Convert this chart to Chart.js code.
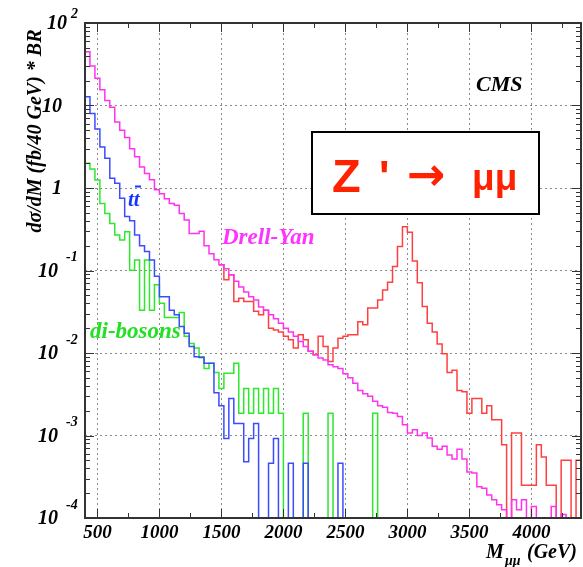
<!DOCTYPE html>
<html>
<head>
<meta charset="utf-8">
<script src="https://cdn.jsdelivr.net/npm/chart.js@4.4.1/dist/chart.umd.min.js"></script>
<style>
  html, body { margin: 0; padding: 0; background: #fff; }
  canvas { display: block; }
</style>
</head>
<body>
<canvas id="chart-mumu" width="583" height="567"></canvas>
<script>
// histogram binning: 40 GeV bins from 400 to 4400 GeV
const binStart = 400;
const binWidth = 40;

// d sigma / dM (fb / 40 GeV) * BR, one value per bin (0 = empty bin)
const drellYan = [
  44.7, 30.2, 21.4, 15.5, 11.5, 9.5, 6.3, 5.0, 4.1, 3.0,
  2.4, 1.8, 1.5, 1.26, 0.95, 0.85, 0.74, 0.65, 0.62, 0.49,
  0.41, 0.28, 0.28, 0.30, 0.20, 0.16, 0.135, 0.117, 0.105, 0.089,
  0.074, 0.063, 0.055, 0.048, 0.044, 0.036, 0.033, 0.029, 0.026, 0.023,
  0.020, 0.018, 0.016, 0.0138, 0.012, 0.0105, 0.0095, 0.0087, 0.0082, 0.0072,
  0.0068, 0.0065, 0.0056, 0.0050, 0.0043, 0.0035, 0.0032, 0.0030, 0.0026, 0.0023,
  0.0022, 0.0019, 0.00186, 0.0017, 0.00135, 0.00107, 0.00117, 0.00100, 0.00107, 0.00093,
  0.00074, 0.00068, 0.00074, 0.00058, 0.00052, 0.00068, 0.00052, 0.00036, 0.00035, 0.00024,
  0.00023, 0.00019, 0.000166, 0.000145, 0.000126, 0, 0.000166, 0.000126, 0.000166, 0,
  0.000138, 0, 0, 0, 0.000138, 0, 0.00011, 0, 0, 0
];

const zPrime = [
  null, null, null, null, null, null, null, null, null, null,
  null, null, null, null, null, null, null, null, null, null,
  null, null, null, null, null, null, null, 0.117, 0.077, 0.089,
  0.042, 0.046, 0.042, 0.042, 0.032, 0.029, 0.033, 0.020, 0.019, 0.018,
  0.016, 0.0145, 0.0115, 0.0166, 0.0145, 0.0105, 0.0095, 0.016, 0.012, 0.0079,
  0.0115, 0.0151, 0.016, 0.0166, 0.0166, 0.024, 0.022, 0.035, 0.035, 0.044,
  0.058, 0.072, 0.112, 0.195, 0.34, 0.29, 0.13, 0.071, 0.0365, 0.023,
  0.018, 0.0129, 0.0098, 0.0058, 0.0062, 0.0035, 0.0034, 0.00186, 0.0028, 0.0028,
  0.00186, 0.0023, 0.00155, 0.00155, 0.00077, 0, 0.00107, 0.00107, 0.00025, 0.00025,
  0.00025, 0.00077, 0.00055, 0.00025, 0.00025, 0, 0.0005, 0.0005, 0, 0.0005
];

const ttbar = [
  12.8, 8.0, 5.2, 3.15, 2.3, 1.31, 1.14, 0.75, 0.45, 0.40,
  0.27, 0.20, 0.17, 0.134, 0.085, 0.048, 0.048, 0.033, 0.029, 0.021,
  0.0174, 0.012, 0.009, 0.0088, 0.0075, 0.0075, 0.0033, 0.0023, 0.00092, 0.0028,
  0.0014, 0.0014, 0.00048, 0.00092, 0.0014, 0, 0, 0.00046, 0.00092, 0,
  0, 0.00046, 0, 0, 0.00046, 0, 0, 0, 0, 0,
  0, 0.00046, 0, 0, 0, 0, 0, 0, 0, 0,
  0, 0, 0, 0, 0, 0, 0, 0, 0, 0,
  0, 0, 0, 0, 0, 0, 0, 0, 0, 0,
  0, 0, 0, 0, 0, 0, 0, 0, 0, 0,
  0, 0, 0, 0, 0, 0, 0, 0, 0, 0
];

const diBosons = [
  2.0, 1.7, 1.25, 0.65, 0.49, 0.37, 0.27, 0.234, 0.295, 0.101,
  0.134, 0.033, 0.134, 0.033, 0.067, 0.040, 0.027, 0.027, 0.027, 0.031,
  0.016, 0.013, 0.0115, 0.009, 0.0065, 0.0075, 0.0058, 0.0037, 0.0057, 0.0057,
  0.0075, 0.00186, 0.0037, 0.00186, 0.0037, 0.00186, 0.0037, 0.00186, 0.0037, 0.00186,
  0, 0, 0, 0, 0.00186, 0, 0, 0, 0, 0.00186,
  0, 0, 0, 0, 0, 0, 0, 0, 0.00186, 0,
  0, 0, 0, 0, 0, 0, 0, 0, 0, 0,
  0, 0, 0, 0, 0, 0, 0, 0, 0, 0,
  0, 0, 0, 0, 0, 0, 0, 0, 0, 0,
  0, 0, 0, 0, 0, 0, 0, 0, 0, 0
];

const xTickLabels = [500, 1000, 1500, 2000, 2500, 3000, 3500, 4000];
const yDecades = [-4, -3, -2, -1, 0, 1, 2];

// empty bins sit far below the axis, so the line drops to the frame
const FLOOR = 1e-6;

function histPoints(values) {
  const pts = [];
  values.forEach((v, i) => {
    if (v === null) return;
    pts.push({ x: binStart + i * binWidth, y: v > 0 ? v : FLOOR });
  });
  const last = values[values.length - 1];
  pts.push({ x: binStart + values.length * binWidth, y: last > 0 ? last : FLOOR });
  return pts;
}

function histDataset(label, values, color) {
  return {
    label: label,
    data: histPoints(values),
    borderColor: color,
    borderWidth: 1.5,
    stepped: true,
    pointRadius: 0,
    fill: false,
    clip: 0
  };
}

const serif = '"Liberation Serif", "DejaVu Serif", serif';

const overlay = {
  id: 'overlay',
  afterDraw(chart) {
    const ctx = chart.ctx;
    const a = chart.chartArea;
    const x = chart.scales.x;
    const y = chart.scales.y;
    ctx.save();

    function seg(x1, y1, x2, y2) {
      ctx.beginPath();
      ctx.moveTo(x1, y1);
      ctx.lineTo(x2, y2);
      ctx.stroke();
    }

    // inward tick marks on all four sides
    ctx.strokeStyle = '#333';
    ctx.lineWidth = 1;
    for (let e = -4; e < 2; e++) {
      for (let m = 1; m < 10; m++) {
        const py = Math.round(y.getPixelForValue(m * Math.pow(10, e))) + 0.5;
        const len = m === 1 ? 9 : 5;
        seg(a.left, py, a.left + len, py);
        seg(a.right, py, a.right - len, py);
      }
    }
    for (let v = 500; v <= 4250; v += 250) {
      const px = Math.round(x.getPixelForValue(v)) + 0.5;
      const len = v % 500 === 0 ? 9 : 5;
      seg(px, a.bottom, px, a.bottom - len);
      seg(px, a.top, px, a.top + len);
    }

    // frame
    ctx.lineWidth = 2;
    ctx.strokeStyle = '#333';
    ctx.strokeRect(a.left, a.top, a.right - a.left, a.bottom - a.top);

    // y tick labels 10^n
    ctx.fillStyle = '#000';
    ctx.textBaseline = 'middle';
    yDecades.forEach((e) => {
      const py = y.getPixelForValue(Math.pow(10, e));
      ctx.font = 'italic bold 20px ' + serif;
      ctx.textAlign = 'right';
      if (e === 0) {
        ctx.fillText('1', 62, py + 1);
      } else if (e === 1) {
        ctx.fillText('10', 62, py + 1);
      } else if (e === 2) {
        ctx.fillText('10', 67, py + 1);
        ctx.font = 'italic bold 14px ' + serif;
        ctx.textAlign = 'left';
        ctx.fillText('2', 71, py - 9);
      } else {
        ctx.fillText('10', 58, py + 1);
        ctx.font = 'italic bold 14px ' + serif;
        ctx.textAlign = 'left';
        ctx.fillText('-' + Math.abs(e), 66, py - 13);
      }
    });

    // x tick labels
    ctx.font = 'italic bold 19px ' + serif;
    ctx.textAlign = 'center';
    ctx.textBaseline = 'alphabetic';
    xTickLabels.forEach((v) => {
      ctx.fillText(String(v), x.getPixelForValue(v), 538);
    });

    // x axis title
    ctx.textAlign = 'left';
    ctx.font = 'italic bold 20px ' + serif;
    ctx.fillText('M', 486, 558);
    ctx.fillText('(GeV)', 527, 558);
    ctx.font = 'italic bold 14px ' + serif;
    ctx.fillText('\u03bc\u03bc', 505, 565);

    // y axis title
    ctx.save();
    ctx.translate(41, 131);
    ctx.rotate(-Math.PI / 2);
    ctx.font = 'italic bold 20px ' + serif;
    ctx.textAlign = 'center';
    ctx.fillText('d\u03c3/dM (fb/40 GeV) * BR', 0, 0);
    ctx.restore();

    // CMS
    ctx.font = 'italic bold 22px ' + serif;
    ctx.textAlign = 'left';
    ctx.fillStyle = '#000';
    ctx.fillText('CMS', 476, 91);

    // curve labels
    ctx.font = 'italic bold 23px ' + serif;
    ctx.fillStyle = '#ff33ff';
    ctx.fillText('Drell-Yan', 222, 244);
    ctx.fillStyle = '#22e022';
    ctx.fillText('di-bosons', 90, 338);
    ctx.font = 'italic bold 21px ' + serif;
    ctx.fillStyle = '#1a35ff';
    ctx.fillText('tt', 128, 206);
    ctx.strokeStyle = '#1a35ff';
    ctx.lineWidth = 2;
    seg(135, 186.5, 141, 186.5);

    // signal box
    ctx.fillStyle = '#fff';
    ctx.fillRect(312, 132, 227, 82);
    ctx.strokeStyle = '#000';
    ctx.lineWidth = 2;
    ctx.strokeRect(312, 132, 227, 82);
    ctx.fillStyle = '#ff2200';
    ctx.font = 'bold 47px "Liberation Sans", Arial, sans-serif';
    ctx.fillText('Z', 332, 192);
    ctx.font = 'bold 44px "Liberation Sans", Arial, sans-serif';
    ctx.fillText("'", 379, 192);
    ctx.font = 'bold 46px "DejaVu Sans", sans-serif';
    ctx.textBaseline = 'middle';
    ctx.fillText('\u2192', 407, 178);
    ctx.textBaseline = 'alphabetic';
    ctx.font = 'bold 37px "Liberation Sans", Arial, sans-serif';
    ctx.fillText('\u03bc\u03bc', 472, 190);

    ctx.restore();
  }
};

new Chart(document.getElementById('chart-mumu'), {
  type: 'line',
  data: {
    datasets: [
      histDataset('Drell-Yan', drellYan, '#ff33ee'),
      histDataset("Z' signal", zPrime, '#ff4040'),
      histDataset('tt', ttbar, '#3b4cff'),
      histDataset('di-bosons', diBosons, '#2ee82e')
    ]
  },
  options: {
    responsive: false,
    animation: false,
    events: [],
    layout: { padding: { left: 85, top: 23, right: 2, bottom: 49 } },
    plugins: {
      legend: { display: false },
      tooltip: { enabled: false }
    },
    scales: {
      x: {
        type: 'linear',
        min: 400,
        max: 4400,
        afterBuildTicks: (s) => { s.ticks = xTickLabels.map((v) => ({ value: v })); },
        ticks: { display: false },
        grid: { drawTicks: false, color: '#8a8a8a', lineWidth: 1 },
        border: { display: false, dash: [2, 3] }
      },
      y: {
        type: 'logarithmic',
        min: 1e-4,
        max: 100,
        afterBuildTicks: (s) => { s.ticks = [1e-3, 1e-2, 1e-1, 1, 10].map((v) => ({ value: v })); },
        ticks: { display: false },
        grid: { drawTicks: false, color: '#8a8a8a', lineWidth: 1 },
        border: { display: false, dash: [2, 3] }
      }
    }
  },
  plugins: [overlay]
});
</script>
</body>
</html>
